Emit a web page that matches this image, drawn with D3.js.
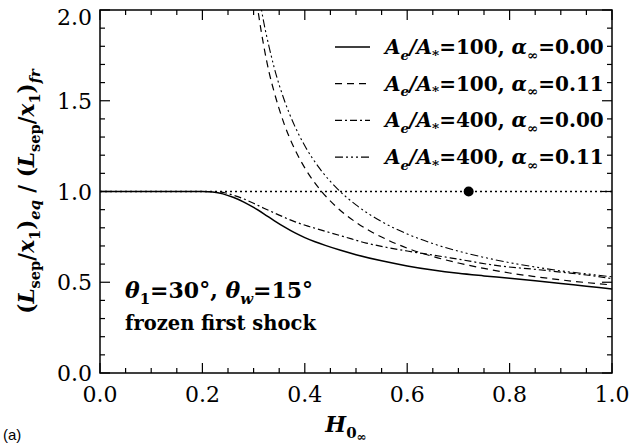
<!DOCTYPE html>
<html>
<head>
<meta charset="utf-8">
<script src="https://cdn.jsdelivr.net/npm/d3@7"></script>
<style>
  body{margin:0;background:#fff;}
  svg{display:block;}
</style>
</head>
<body>
<div id="chart"></div>
<script>
// H_0inf values and ratio values
var hSolid   = [0.00,0.20,0.22,0.24,0.26,0.28,0.30,0.32,0.34,0.36,0.38,0.40,0.42,0.44,0.47,0.50,0.55,0.60,0.65,0.70,0.75,0.80,0.85,0.90,0.95,1.00];
var ySolid   = [1.000,1.000,0.997,0.987,0.968,0.943,0.912,0.877,0.840,0.805,0.773,0.746,0.723,0.703,0.676,0.652,0.618,0.590,0.567,0.549,0.535,0.522,0.508,0.493,0.478,0.463];

var hDashDot = [0.00,0.22,0.24,0.26,0.28,0.30,0.32,0.35,0.38,0.41,0.44,0.48,0.52,0.56,0.60,0.65,0.70,0.78,0.85,0.91,0.95,1.00];
var yDashDot = [1.000,1.000,0.995,0.980,0.960,0.935,0.908,0.870,0.834,0.806,0.781,0.748,0.716,0.692,0.672,0.650,0.627,0.590,0.571,0.553,0.540,0.520];

var hDashed  = [0.30,0.31,0.32,0.33,0.34,0.36,0.38,0.40,0.43,0.46,0.50,0.55,0.60,0.65,0.70,0.75,0.80,0.85,0.90,0.95,1.00];
var yDashed  = [2.18,1.97,1.80,1.66,1.55,1.37,1.235,1.13,1.01,0.92,0.83,0.749,0.688,0.642,0.606,0.576,0.551,0.531,0.513,0.498,0.485];

var hDash3Dot = [0.31,0.32,0.33,0.34,0.36,0.38,0.40,0.43,0.46,0.50,0.55,0.60,0.65,0.70,0.75,0.80,0.85,0.90,0.95,1.00];
var yDash3Dot = [2.09,1.93,1.80,1.685,1.503,1.363,1.252,1.123,1.025,0.926,0.834,0.766,0.713,0.671,0.637,0.608,0.584,0.563,0.546,0.530];

var refLine = [1.0];
var markerH = [0.72];

var xTicks = [0.0,0.2,0.4,0.6,0.8,1.0];
var yTicks = [0.0,0.5,1.0,1.5,2.0];

var ratioLabels = ["100","100","400","400"];
var alphaLabels = ["0.00","0.11","0.00","0.11"];

var W = 631, H = 448;
var margin = {left:100, right:19, top:10, bottom:75};
var pw = W - margin.left - margin.right,
    ph = H - margin.top - margin.bottom;

var x = d3.scaleLinear().domain([0,1]).range([0,pw]);
var y = d3.scaleLinear().domain([0,2]).range([ph,0]);

var svg = d3.select("#chart").append("svg")
  .attr("width",W).attr("height",H);
svg.append("rect").attr("width",W).attr("height",H).attr("fill","#fff");

var g = svg.append("g")
  .attr("transform","translate(" + margin.left + "," + margin.top + ")");

g.append("clipPath").attr("id","clip")
  .append("rect").attr("width",pw).attr("height",ph);

var serif = "'DejaVu Serif', serif";

// ticks on all four sides, pointing inward
var xMinor = d3.range(0,1.0001,0.05), yMinor = d3.range(0,2.0001,0.1);
function isMajor(v,step){ return Math.abs(v/step - Math.round(v/step)) < 1e-6; }

var tickG = g.append("g").attr("stroke","#000").attr("stroke-width",1.2);
xMinor.forEach(function(v){
  var len = isMajor(v,0.2) ? 10 : 5;
  tickG.append("line").attr("x1",x(v)).attr("x2",x(v)).attr("y1",ph).attr("y2",ph-len);
  tickG.append("line").attr("x1",x(v)).attr("x2",x(v)).attr("y1",0).attr("y2",len);
});
yMinor.forEach(function(v){
  var len = isMajor(v,0.5) ? 10 : 5;
  tickG.append("line").attr("y1",y(v)).attr("y2",y(v)).attr("x1",0).attr("x2",len);
  tickG.append("line").attr("y1",y(v)).attr("y2",y(v)).attr("x1",pw).attr("x2",pw-len);
});

// tick labels
g.selectAll("text.xt").data(xTicks).enter().append("text")
  .attr("class","xt")
  .attr("x",function(d){ return x(d); })
  .attr("y",ph + 29)
  .attr("text-anchor","middle")
  .style("font-family",serif).style("font-size","22px")
  .text(function(d){ return d.toFixed(1); });

g.selectAll("text.yt").data(yTicks).enter().append("text")
  .attr("class","yt")
  .attr("x",-8)
  .attr("y",function(d){ return Math.max(y(d) + 8, 15); })
  .attr("text-anchor","end")
  .style("font-family",serif).style("font-size","22px")
  .text(function(d){ return d.toFixed(1); });

// rich text helper: segments {t, it, sub, subsub}
function rich(sel, segs, size){
  segs.forEach(function(s){
    var lvl = s.subsub ? 2 : (s.sub ? 1 : 0);
    var fs = lvl==0 ? size : (lvl==1 ? size*0.68 : size*0.55);
    var off = lvl==0 ? 0 : (lvl==1 ? size*0.28 : size*0.42);
    sel.append("tspan")
      .attr("dy", off - (sel.node()._off || 0))
      .style("font-size", fs + "px")
      .style("font-style", s.it ? "italic" : "normal")
      .text(s.t);
    sel.node()._off = off;
  });
  return sel;
}

var lines = g.append("g").attr("clip-path","url(#clip)").attr("fill","none").attr("stroke","#000");
var line = d3.line().x(function(d){ return x(d[0]); }).y(function(d){ return y(d[1]); })
  .curve(d3.curveMonotoneX);

var series = [
  {h:hSolid, v:ySolid, dash:null, w:1.5},
  {h:hDashed, v:yDashed, dash:"7,5", w:1.2},
  {h:hDashDot, v:yDashDot, dash:"7,3,2,3", w:1.2},
  {h:hDash3Dot, v:yDash3Dot, dash:"8,3,2,3,2,3,2,3", w:1.1}
];

// dotted reference at 1.0
lines.append("line")
  .attr("x1",x(0)).attr("x2",x(1))
  .attr("y1",y(refLine[0])).attr("y2",y(refLine[0]))
  .attr("stroke-width",1.3).attr("stroke-dasharray","2,3");

series.forEach(function(s){
  lines.append("path")
    .datum(d3.zip(s.h,s.v))
    .attr("d",line)
    .attr("stroke-width",s.w)
    .attr("stroke-dasharray",s.dash);
});

g.selectAll("circle.mk").data(markerH).enter().append("circle")
  .attr("class","mk")
  .attr("cx",function(d){ return x(d); })
  .attr("cy",y(refLine[0]))
  .attr("r",5).attr("fill","#000");

// frame
g.append("rect").attr("width",pw).attr("height",ph)
  .attr("fill","none").attr("stroke","#000").attr("stroke-width",1.5);

// legend
var leg = g.append("g").attr("transform","translate(235,37)");
series.forEach(function(s,i){
  var row = leg.append("g").attr("transform","translate(0," + (i*36.7) + ")");
  row.append("line").attr("x1",0).attr("x2",35).attr("y1",0).attr("y2",0)
    .attr("stroke","#000").attr("stroke-width",s.w).attr("stroke-dasharray",s.dash);
  var t = row.append("text").attr("x",50).attr("y",7)
    .style("font-family",serif).style("font-weight","bold");
  rich(t,[
    {t:"A",it:true},{t:"e",it:true,sub:true},{t:"/A",it:true},{t:"*",sub:true},
    {t:"=" + ratioLabels[i] + ",  "},{t:"α",it:true},{t:"∞",sub:true},{t:"=" + alphaLabels[i]}
  ],20);
});

// annotation
var a1 = g.append("text").attr("x",25).attr("y",288)
  .style("font-family",serif).style("font-weight","bold");
rich(a1,[{t:"θ",it:true},{t:"1",sub:true},{t:"=30°,   "},{t:"θ",it:true},{t:"w",it:true,sub:true},{t:"=15°"}],22);
g.append("text").attr("x",25).attr("y",320)
  .style("font-family",serif).style("font-weight","bold").style("font-size","19.5px")
  .text("frozen first shock");

// x axis title
var xt = svg.append("text").attr("x",margin.left + pw/2 - 10).attr("y",432)
  .attr("text-anchor","middle")
  .style("font-family",serif).style("font-weight","bold");
rich(xt,[{t:"H",it:true},{t:"0",sub:true},{t:"∞",subsub:true}],22);

// y axis title
var yt = svg.append("text")
  .attr("transform","translate(34," + (margin.top + ph/2) + ") rotate(-90)")
  .attr("text-anchor","middle")
  .style("font-family",serif).style("font-weight","bold");
rich(yt,[
  {t:"(",},{t:"L",it:true},{t:"sep",sub:true},{t:"/",},{t:"x",it:true},{t:"1",sub:true},{t:")"},{t:"eq",it:true,sub:true},
  {t:"  /  ("},{t:"L",it:true},{t:"sep",sub:true},{t:"/",},{t:"x",it:true},{t:"1",sub:true},{t:")"},{t:"fr",it:true,sub:true}
],21.5);

svg.append("text").attr("x",3).attr("y",440)
  .style("font-family","'Liberation Sans', Arial, sans-serif").style("font-size","15px")
  .text("(a)");
</script>
</body>
</html>
